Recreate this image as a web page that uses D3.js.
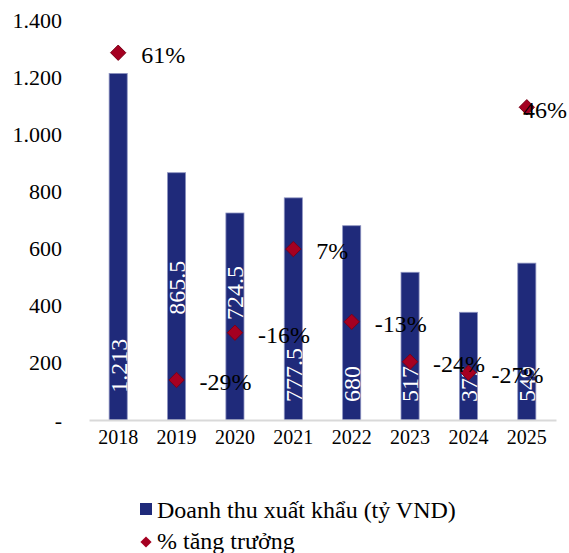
<!DOCTYPE html>
<html>
<head>
<meta charset="utf-8">
<script src="https://cdn.jsdelivr.net/npm/d3@7"></script>
<style>
  body { margin: 0; background: #fff; }
  svg text { font-family: "Liberation Serif", "Times New Roman", serif; }
</style>
</head>
<body>
<div id="chart"></div>
<script>
// data
const years = ["2018", "2019", "2020", "2021", "2022", "2023", "2024", "2025"];
const revenue = [1213, 865.5, 724.5, 777.5, 680, 517, 377, 549];
const revenueLabels = ["1.213", "865.5", "724.5", "777.5", "680", "517", "377", "549"];
const growth = [0.61, -0.29, -0.16, 0.07, -0.13, -0.24, -0.27, 0.46];
const yTicks = [0, 200, 400, 600, 800, 1000, 1200, 1400];
const yTickLabels = ["-", "200", "400", "600", "800", "1.000", "1.200", "1.400"];
// where each rotated value label starts, in axis units
const labelBase = [95, 368, 350, 63, 63, 63, 63, 63];

const W = 569, H = 553;
const plot = {left: 89, right: 556, top: 20, bottom: 420};
const serif = "Liberation Serif";

const svg = d3.select("#chart").append("svg")
    .attr("width", W)
    .attr("height", H)
    .attr("font-family", serif);

const x = d3.scaleBand()
    .domain(years)
    .range([plot.left, plot.right])
    .paddingInner(0.69)
    .paddingOuter(0.345);

const y = d3.scaleLinear()
    .domain([0, 1400])
    .range([plot.bottom, plot.top]);

// hidden secondary axis for growth
const y2 = d3.scaleLinear()
    .domain([-0.4, 0.7])
    .range([plot.bottom, plot.top]);

// y axis labels
const yAxis = d3.axisLeft(y)
    .tickValues(yTicks)
    .tickFormat((d, i) => yTickLabels[i])
    .tickSize(0)
    .tickPadding(0);

svg.append("g")
    .attr("transform", "translate(62,0)")
    .call(yAxis)
    .attr("font-family", serif)
    .call(g => g.select(".domain").remove())
    .selectAll("text")
    .attr("font-size", 22)
    .attr("fill", "#000");

// bars
svg.append("g").selectAll("rect")
    .data(revenue)
    .enter()
    .append("rect")
    .attr("x", (d, i) => x(years[i]))
    .attr("y", d => y(d))
    .attr("width", x.bandwidth())
    .attr("height", d => y(0) - y(d))
    .attr("fill", "#1f2a7a")
    .attr("stroke", "#8d93c0")
    .attr("stroke-width", 0.8);

// x axis
const xAxis = d3.axisBottom(x).tickSize(0).tickPadding(10);
svg.append("g")
    .attr("transform", `translate(0,${plot.bottom})`)
    .call(xAxis)
    .attr("font-family", serif)
    .call(g => g.select(".domain").attr("stroke", "#d9d9d9").attr("stroke-width", 2))
    .selectAll("text")
    .attr("font-size", 20)
    .attr("fill", "#000");

// value labels, rotated inside bars
svg.append("g").selectAll("text")
    .data(revenueLabels)
    .enter()
    .append("text")
    .attr("transform", (d, i) => `translate(${x(years[i]) + x.bandwidth() / 2},${y(labelBase[i])}) rotate(-90)`)
    .attr("dy", "0.35em")
    .attr("text-anchor", "start")
    .attr("font-size", 24)
    .attr("fill", "#fff")
    .text(d => d);

// growth diamonds
const diamond = d3.symbol().type(d3.symbolDiamond2).size(150);
svg.append("g").selectAll("path")
    .data(growth)
    .enter()
    .append("path")
    .attr("d", diamond)
    .attr("transform", (d, i) => `translate(${x(years[i]) + x.bandwidth() / 2},${y2(d)})`)
    .attr("fill", "#a50021")
    .attr("stroke", "#7a0018")
    .attr("stroke-width", 1);

// growth labels
const pct = d => Math.round(d * 100) + "%";
svg.append("g").selectAll("text")
    .data(growth)
    .enter()
    .append("text")
    .attr("y", d => y2(d) + 2)
    .attr("dy", "0.35em")
    .attr("font-size", 24)
    .attr("fill", "#000")
    .text(d => pct(d))
    .attr("x", function(d, i) {
        const cx = x(years[i]) + x.bandwidth() / 2;
        const w = this.getComputedTextLength();
        return Math.min(cx + 23, W - 2 - w);
    });

// legend
const legend = svg.append("g");
legend.append("rect")
    .attr("x", 140).attr("y", 503)
    .attr("width", 12).attr("height", 12)
    .attr("fill", "#1f2a7a");
legend.append("text")
    .attr("x", 157).attr("y", 518)
    .attr("font-size", 24)
    .text("Doanh thu xuất khẩu (tỷ VND)");
legend.append("path")
    .attr("d", d3.symbol().type(d3.symbolDiamond2).size(80))
    .attr("transform", "translate(146,542)")
    .attr("fill", "#a50021");
legend.append("text")
    .attr("x", 157).attr("y", 549)
    .attr("font-size", 24)
    .text("% tăng trưởng");
</script>
</body>
</html>
